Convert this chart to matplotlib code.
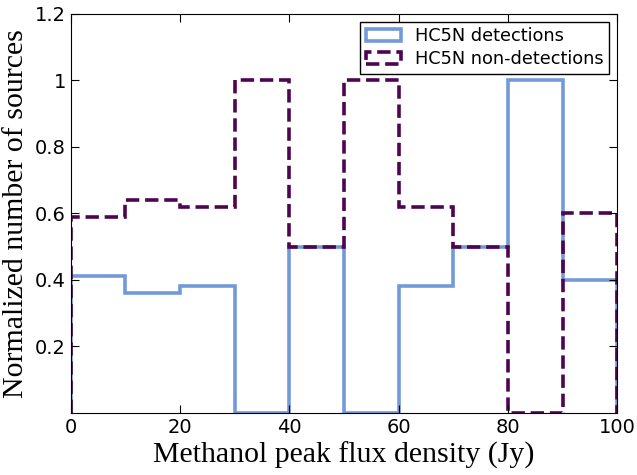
import matplotlib.pyplot as plt
from matplotlib.patches import Patch
import numpy as np

edges = np.arange(0, 101, 10)
detections = [0.41, 0.36, 0.38, 0.0, 0.50, 0.0, 0.38, 0.50, 1.0, 0.40]
non_detections = [0.59, 0.64, 0.62, 1.0, 0.50, 1.0, 0.62, 0.50, 0.0, 0.60]
y_ticks = [0.2, 0.4, 0.6, 0.8, 1.0, 1.2]
y_tick_labels = ['0.2', '0.4', '0.6', '0.8', '1', '1.2']
x_ticks = [0, 20, 40, 60, 80, 100]

det_color = '#7299d8'
non_color = '#4e0450'

fig = plt.figure(figsize=(6.37, 4.75), dpi=100)
ax = fig.add_axes([0.111, 0.131, 0.858, 0.84])

ax.stairs(detections, edges, color=det_color, linewidth=2.6)
ax.stairs(non_detections, edges, color=non_color, linewidth=2.6, linestyle='--')

ax.set_xlim(0, 100)
ax.set_ylim(0, 1.2)
ax.set_xticks(x_ticks)
ax.set_xticklabels([str(t) for t in x_ticks], fontsize=14)
ax.set_yticks(y_ticks)
ax.set_yticklabels(y_tick_labels, fontsize=14)
ax.tick_params(direction='in', top=True, right=True, length=6)

ax.set_xlabel('Methanol peak flux density (Jy)', family='Liberation Serif', fontsize=21.5)
ax.set_ylabel('Normalized number of sources', family='Liberation Serif', fontsize=21.5)

# legend with box-shaped handles like old step histograms
handles = [Patch(facecolor='none', edgecolor=det_color, linewidth=2.6, label='HC5N detections'),
           Patch(facecolor='none', edgecolor=non_color, linewidth=2.6, linestyle='--',
                 label='HC5N non-detections')]
leg = ax.legend(handles=handles, loc='upper right', fontsize=12.8, fancybox=False, framealpha=1,
                edgecolor='black', borderaxespad=0.45, borderpad=0.3, handlelength=2.0,
                handleheight=0.7, labelspacing=0.3)
leg.get_frame().set_linewidth(1)

plt.savefig('out.png', dpi=100)
